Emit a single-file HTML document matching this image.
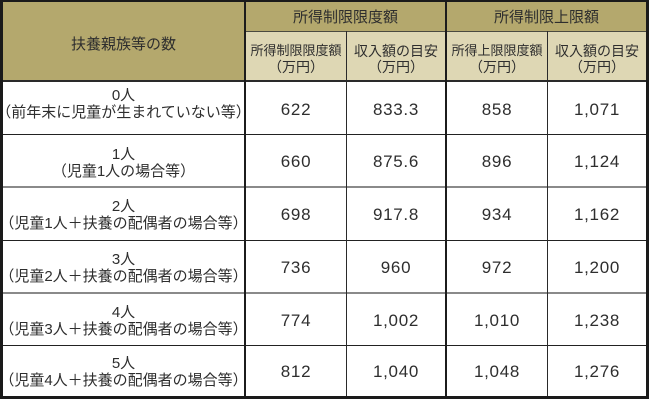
<!DOCTYPE html>
<html><head><meta charset="utf-8">
<style>
html,body{margin:0;padding:0;background:#fff;}
body{width:650px;height:401px;position:relative;overflow:hidden;font-family:"Liberation Sans","Noto Sans CJK JP",sans-serif;color:#2e2e2e;}
.a{position:absolute;}
.c{position:absolute;display:flex;flex-direction:column;align-items:center;justify-content:center;text-align:center;white-space:nowrap;}
.lab{font-size:15px;line-height:17px;}
.num{font-size:17px;letter-spacing:0.7px;font-family:"Liberation Sans",sans-serif;}
.sub{line-height:16px;}
</style></head><body>
<!-- backgrounds -->
<div class="a" style="left:0;top:0;width:245px;height:82px;background:#b4a86d;"></div>
<div class="a" style="left:245px;top:0;width:404px;height:31px;background:#b4a86d;"></div>
<div class="a" style="left:245px;top:31px;width:404px;height:50px;background:#ded7b4;"></div>

<!-- grid lines -->
<div class="a" style="left:245px;top:31px;width:404px;height:1px;background:#4a4a40;"></div>
<div class="a" style="left:0;top:80px;width:649px;height:2px;background:#2a2a2a;"></div>
<div class="a" style="left:0;top:134px;width:649px;height:1px;background:#222;"></div>
<div class="a" style="left:0;top:186px;width:649px;height:2px;background:#8a8a8a;"></div>
<div class="a" style="left:0;top:240px;width:649px;height:1px;background:#222;"></div>
<div class="a" style="left:0;top:292px;width:649px;height:2px;background:#8a8a8a;"></div>
<div class="a" style="left:0;top:345px;width:649px;height:1px;background:#222;"></div>

<div class="a" style="left:244px;top:0;width:2px;height:399px;background:#1c1c1c;"></div>
<div class="a" style="left:346px;top:31px;width:1px;height:368px;background:#2a2a2a;"></div>
<div class="a" style="left:445px;top:0;width:2px;height:399px;background:#1c1c1c;"></div>
<div class="a" style="left:547px;top:31px;width:1px;height:368px;background:#2a2a2a;"></div>

<!-- outer border -->
<div class="a" style="left:0;top:0;width:643px;height:394px;border-left:3px solid #1a1a1a;border-top:2px solid #1a1a1a;border-right:3px solid #1a1a1a;border-bottom:3px solid #1a1a1a;"></div>

<!-- header text -->
<div class="c" style="left:3px;top:4px;width:241px;height:78px;font-size:15px;">扶養親族等の数</div>
<div class="c" style="left:246px;top:2px;width:199px;height:29px;font-size:15px;">所得制限限度額</div>
<div class="c" style="left:447px;top:2px;width:199px;height:29px;font-size:15px;">所得制限上限額</div>

<div class="c sub" style="left:246px;top:32px;width:100px;height:54px;font-size:13px;"><div>所得制限限度額</div><div style="font-size:14px;">（万円）</div></div>
<div class="c sub" style="left:347px;top:32px;width:98px;height:54px;font-size:14px;"><div>収入額の目安</div><div>（万円）</div></div>
<div class="c sub" style="left:447px;top:32px;width:100px;height:54px;font-size:13px;"><div>所得上限限度額</div><div style="font-size:14px;">（万円）</div></div>
<div class="c sub" style="left:548px;top:32px;width:98px;height:54px;font-size:14px;"><div>収入額の目安</div><div>（万円）</div></div>

<!-- row 0 -->
<div class="c lab" style="left:3px;top:82px;width:241px;height:44px;"><div>0人</div><div>（前年末に児童が生まれていない等）</div></div>
<div class="c num" style="left:246px;top:82px;width:100px;height:56px;">622</div>
<div class="c num" style="left:347px;top:82px;width:98px;height:56px;">833.3</div>
<div class="c num" style="left:447px;top:82px;width:100px;height:56px;">858</div>
<div class="c num" style="left:548px;top:82px;width:98px;height:56px;">1,071</div>

<!-- row 1 -->
<div class="c lab" style="left:3px;top:135px;width:241px;height:56px;"><div>1人</div><div>（児童1人の場合等）</div></div>
<div class="c num" style="left:246px;top:135px;width:100px;height:54px;">660</div>
<div class="c num" style="left:347px;top:135px;width:98px;height:54px;">875.6</div>
<div class="c num" style="left:447px;top:135px;width:100px;height:54px;">896</div>
<div class="c num" style="left:548px;top:135px;width:98px;height:54px;">1,124</div>

<!-- row 2 -->
<div class="c lab" style="left:3px;top:188px;width:241px;height:54px;"><div>2人</div><div>（児童1人＋扶養の配偶者の場合等）</div></div>
<div class="c num" style="left:246px;top:188px;width:100px;height:54px;">698</div>
<div class="c num" style="left:347px;top:188px;width:98px;height:54px;">917.8</div>
<div class="c num" style="left:447px;top:188px;width:100px;height:54px;">934</div>
<div class="c num" style="left:548px;top:188px;width:98px;height:54px;">1,162</div>

<!-- row 3 -->
<div class="c lab" style="left:3px;top:241px;width:241px;height:53px;"><div>3人</div><div>（児童2人＋扶養の配偶者の場合等）</div></div>
<div class="c num" style="left:246px;top:241px;width:100px;height:53px;">736</div>
<div class="c num" style="left:347px;top:241px;width:98px;height:53px;">960</div>
<div class="c num" style="left:447px;top:241px;width:100px;height:53px;">972</div>
<div class="c num" style="left:548px;top:241px;width:98px;height:53px;">1,200</div>

<!-- row 4 -->
<div class="c lab" style="left:3px;top:294px;width:241px;height:53px;"><div>4人</div><div>（児童3人＋扶養の配偶者の場合等）</div></div>
<div class="c num" style="left:246px;top:294px;width:100px;height:53px;">774</div>
<div class="c num" style="left:347px;top:294px;width:98px;height:53px;">1,002</div>
<div class="c num" style="left:447px;top:294px;width:100px;height:53px;">1,010</div>
<div class="c num" style="left:548px;top:294px;width:98px;height:53px;">1,238</div>

<!-- row 5 -->
<div class="c lab" style="left:3px;top:346px;width:241px;height:52px;"><div>5人</div><div>（児童4人＋扶養の配偶者の場合等）</div></div>
<div class="c num" style="left:246px;top:346px;width:100px;height:52px;">812</div>
<div class="c num" style="left:347px;top:346px;width:98px;height:52px;">1,040</div>
<div class="c num" style="left:447px;top:346px;width:100px;height:52px;">1,048</div>
<div class="c num" style="left:548px;top:346px;width:98px;height:52px;">1,276</div>
</body></html>
